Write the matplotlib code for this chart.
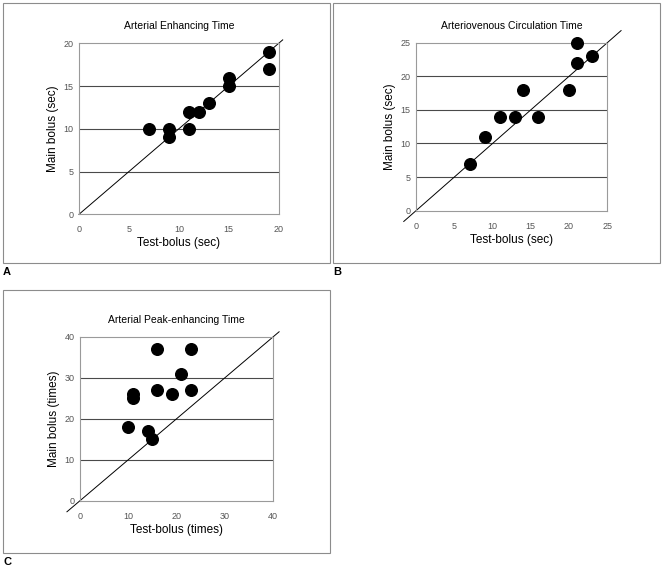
import matplotlib
matplotlib.use("Agg")
import matplotlib.pyplot as plt
from matplotlib.patches import Rectangle

plt.rcParams['font.family'] = ['Liberation Sans', 'DejaVu Sans']

W, H = 664, 571

# panel A: arterial enhancing time (sec)
a_test = [7, 9, 9, 11, 11, 12, 13, 15, 15, 19, 19]
a_main = [10, 10, 9, 12, 10, 12, 13, 16, 15, 19, 17]

# panel B: arteriovenous circulation time (sec)
b_test = [7, 9, 11, 13, 14, 16, 20, 21, 21, 23]
b_main = [7, 11, 14, 14, 18, 14, 18, 22, 25, 23]

# panel C: arterial peak-enhancing time (times)
c_test = [10, 11, 11, 14, 15, 16, 16, 19, 21, 23, 23]
c_main = [18, 26, 25, 17, 15, 37, 27, 26, 31, 37, 27]


def frac(left, top, right, bottom):
    return [left / W, 1 - bottom / H, (right - left) / W, (bottom - top) / H]


fig = plt.figure(figsize=(W / 100, H / 100), dpi=100)


def panel(box, axbox, title, xs, ys, vmax, step, diag, xlab, ylab, letter):
    # outer frame around the panel
    l, t, r, b = box
    fig.patches.append(Rectangle((l / W, 1 - b / H), (r - l) / W, (b - t) / H,
                                 transform=fig.transFigure, fill=False,
                                 edgecolor='#8c8c8c', linewidth=0.8))
    fig.text(l / W, 1 - (b + 9) / H, letter, fontsize=8, fontweight='bold',
             va='center', ha='left')

    ax = fig.add_axes(frac(*axbox))
    ax.plot(diag, diag, color='black', linewidth=0.7, clip_on=False, zorder=2)
    ax.scatter(xs, ys, s=70, color='black', zorder=3, clip_on=False)
    ax.set_xlim(0, vmax)
    ax.set_ylim(0, vmax)
    ticks = list(range(0, vmax + 1, step))
    ax.set_xticks(ticks)
    ax.set_yticks(ticks)
    for v in ticks[1:-1]:
        ax.axhline(v, color='#4a4a4a', linewidth=0.8, zorder=1)
    for s in ax.spines.values():
        s.set_color('#9a9a9a')
        s.set_linewidth(0.8)
    ax.tick_params(length=0, labelsize=6.5, labelcolor='#555555')
    ax.tick_params(axis='x', pad=8)
    ax.tick_params(axis='y', pad=4)
    ax.set_title(title, fontsize=7.5, pad=10)
    ax.set_xlabel(xlab, fontsize=8.5, labelpad=2)
    ax.set_ylabel(ylab, fontsize=8.5)
    axw = axbox[2] - axbox[0]
    ax.yaxis.set_label_coords(-20 / axw, 0.5)
    return ax


panel((3, 3, 330, 263), (79, 43.3, 278.7, 214.3), 'Arterial Enhancing Time',
      a_test, a_main, 20, 5, [0, 20.4], 'Test-bolus (sec)', 'Main bolus (sec)', 'A')
panel((333, 3, 660, 263), (416, 42.7, 607.3, 210.7), 'Arteriovenous Circulation Time',
      b_test, b_main, 25, 5, [-1.6, 26.8], 'Test-bolus (sec)', 'Main bolus (sec)', 'B')
panel((3, 290, 330, 553), (80, 336.7, 273.3, 500.7), 'Arterial Peak-enhancing Time',
      c_test, c_main, 40, 10, [-2.7, 41.2], 'Test-bolus (times)', 'Main bolus (times)', 'C')

fig.savefig('out.png', dpi=100)
